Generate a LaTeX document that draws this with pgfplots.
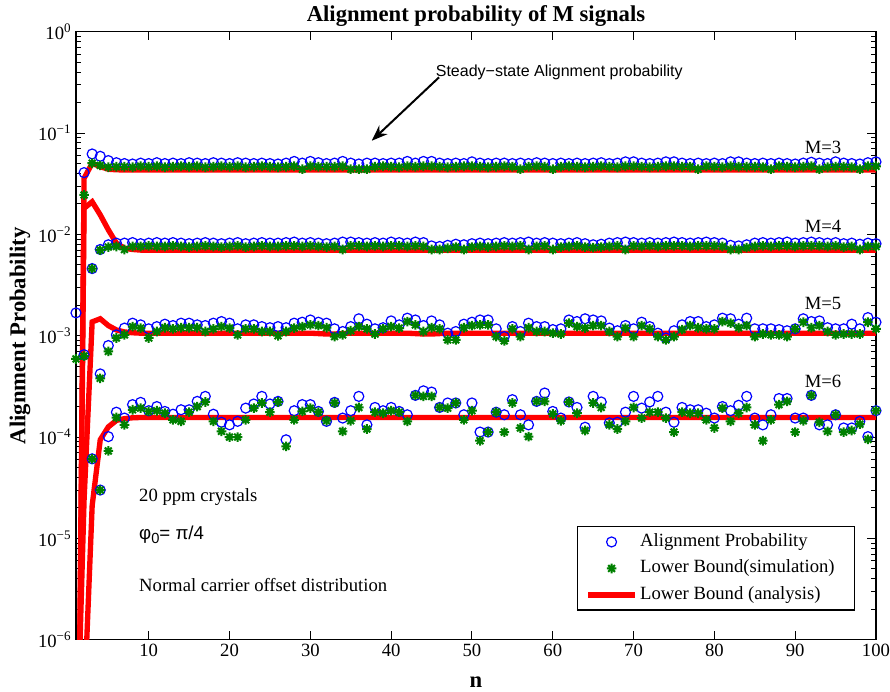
\documentclass[border=0pt]{standalone}
\usepackage{fontspec}
\setmainfont{Liberation Serif}
\newfontfamily\sansf{Liberation Sans}
\usepackage{pgfplots}
\usepackage{pgfplotstable}
\pgfplotsset{compat=1.18}
\usetikzlibrary{arrows.meta}
\definecolor{mgreen}{rgb}{0,0.5,0}
\pgfdeclareplotmark{mstar}{%
 \pgfpathmoveto{\pgfqpoint{0pt}{\pgfplotmarksize}}\pgfpathlineto{\pgfqpoint{0pt}{-\pgfplotmarksize}}%
 \pgfpathmoveto{\pgfqpoint{\pgfplotmarksize}{0pt}}\pgfpathlineto{\pgfqpoint{-\pgfplotmarksize}{0pt}}%
 \pgfpathmoveto{\pgfqpoint{0.707\pgfplotmarksize}{0.707\pgfplotmarksize}}\pgfpathlineto{\pgfqpoint{-0.707\pgfplotmarksize}{-0.707\pgfplotmarksize}}%
 \pgfpathmoveto{\pgfqpoint{0.707\pgfplotmarksize}{-0.707\pgfplotmarksize}}\pgfpathlineto{\pgfqpoint{-0.707\pgfplotmarksize}{0.707\pgfplotmarksize}}%
 \pgfusepathqstroke}
\pgfplotstableread{
n c3 s3 c4 s4 c5 s5 c6 s6 r3 r4 r5 r6
1 1.68e-3 5.9e-4 nan nan nan nan nan nan 1e-10 1e-10 4e-8 1e-10
2 0.0407 0.0245 6.5e-4 6.3e-4 nan nan nan nan 0.0358 0.0181 2.4e-5 2.2e-7
3 0.0622 0.0504 4.6e-3 4.6e-3 6.1e-5 6.1e-5 nan nan 0.0504 0.0210 1.37e-3 2.1e-5
4 0.0590 0.0480 7.1e-3 7.0e-3 4.2e-4 3.8e-4 3.0e-5 3.0e-5 0.0466 0.0156 1.47e-3 9.4e-5
5 0.0535 0.0460 7.9e-3 7.5e-3 8.0e-4 7.0e-4 1.01e-4 7.3e-5 0.0440 0.0111 1.26e-3 1.26e-4
6 0.0510 0.0465 8.2e-3 7.6e-3 1.02e-3 9.5e-4 1.76e-4 1.56e-4 0.0434 0.0082 1.14e-3 1.46e-4
7 0.0500 0.0465 8.2e-3 7.1e-3 1.19e-3 1.02e-3 1.54e-4 1.32e-4 0.0433 0.0073 1.09e-3 1.52e-4
8 0.0495 0.0460 8.3e-3 7.6e-3 1.33e-3 1.23e-3 2.09e-4 1.86e-4 0.0433 0.0071 1.07e-3 1.55e-4
9 0.0505 0.0470 8.1e-3 7.6e-3 1.28e-3 1.19e-3 2.20e-4 1.93e-4 0.0433 0.0070 1.06e-3 1.56e-4
10 0.0500 0.0465 0.0082 0.0077 1.17e-3 9.5e-4 1.82e-4 1.79e-4 0.0433 0.0070 1.06e-3 1.56e-4
11 0.0510 0.0470 0.0083 0.0076 1.23e-3 1.1e-3 2.0e-4 1.82e-4 0.0433 0.0070 1.06e-3 1.56e-4
12 0.0500 0.0460 0.0082 0.0076 1.3e-3 1.2e-3 1.79e-4 1.72e-4 0.0433 0.0070 1.06e-3 1.56e-4
13 0.0505 0.0465 0.0083 0.0077 1.26e-3 1.17e-3 1.68e-4 1.48e-4 0.0433 0.0070 1.06e-3 1.56e-4
14 0.0500 0.0470 0.0082 0.0076 1.33e-3 1.2e-3 1.86e-4 1.43e-4 0.0433 0.0070 1.06e-3 1.56e-4
15 0.0510 0.0465 0.0081 0.0075 1.33e-3 1.2e-3 1.86e-4 1.76e-4 0.0433 0.0070 1.06e-3 1.56e-4
16 0.0505 0.0470 0.0082 0.0076 1.28e-3 1.2e-3 2.25e-4 2.0e-4 0.0433 0.0070 1.06e-3 1.56e-4
17 0.0500 0.0460 0.0083 0.0077 1.26e-3 1.1e-3 2.52e-4 2.22e-4 0.0433 0.0070 1.06e-3 1.56e-4
18 0.0510 0.0465 0.0082 0.0076 1.33e-3 1.17e-3 1.68e-4 1.43e-4 0.0433 0.0070 1.06e-3 1.56e-4
19 0.0505 0.0470 0.0081 0.0075 1.38e-3 1.23e-3 1.4e-4 1.14e-4 0.0433 0.0070 1.06e-3 1.56e-4
20 0.0500 0.0465 0.0082 0.0076 1.33e-3 1.19e-3 1.32e-4 1.0e-4 0.0433 0.0070 1.06e-3 1.56e-4
21 0.0510 0.0470 0.0083 0.0077 1.17e-3 1.02e-3 1.43e-4 1.0e-4 0.0433 0.0070 1.06e-3 1.56e-4
22 0.0505 0.0460 0.0081 0.0075 1.28e-3 1.17e-3 1.93e-4 1.48e-4 0.0433 0.0070 1.06e-3 1.56e-4
23 0.0500 0.0465 0.0082 0.0076 1.28e-3 1.17e-3 2.12e-4 1.93e-4 0.0433 0.0070 1.06e-3 1.56e-4
24 0.0505 0.0470 0.0083 0.0077 1.23e-3 1.1e-3 2.52e-4 2.17e-4 0.0433 0.0070 1.06e-3 1.56e-4
25 0.0500 0.0465 0.0082 0.0076 1.2e-3 1.1e-3 2.12e-4 1.76e-4 0.0433 0.0070 1.06e-3 1.56e-4
26 0.0495 0.0460 0.0082 0.0076 1.23e-3 1.0e-3 2.25e-4 2.22e-4 0.0433 0.0070 1.06e-3 1.56e-4
27 0.0505 0.0465 0.0083 0.0077 1.2e-3 1.1e-3 9.4e-5 8.1e-5 0.0433 0.0070 1.06e-3 1.56e-4
28 0.0525 0.0470 0.0084 0.0077 1.33e-3 1.19e-3 1.82e-4 1.48e-4 0.0433 0.0070 1.06e-3 1.56e-4
29 0.0505 0.0440 0.0082 0.0076 1.36e-3 1.23e-3 2.09e-4 1.79e-4 0.0433 0.0070 1.06e-3 1.56e-4
30 0.0525 0.0470 0.0083 0.0077 1.43e-3 1.28e-3 2.09e-4 1.93e-4 0.0433 0.0070 1.06e-3 1.56e-4
31 0.0510 0.0465 0.0082 0.0076 1.36e-3 1.26e-3 1.79e-4 1.76e-4 0.0433 0.0070 1.05e-3 1.56e-4
32 0.0500 0.0465 0.0081 0.0075 1.33e-3 1.2e-3 1.43e-4 1.45e-4 0.0433 0.0070 1.04e-3 1.56e-4
33 0.0505 0.0465 0.0082 0.0076 1.17e-3 9.8e-4 2.2e-4 2.17e-4 0.0433 0.0070 1.04e-3 1.56e-4
34 0.0525 0.0470 0.0084 0.0071 1.1e-3 1.02e-3 1.54e-4 1.14e-4 0.0433 0.0070 1.05e-3 1.56e-4
35 0.0505 0.0440 0.0084 0.0077 1.23e-3 1.12e-3 1.82e-4 1.45e-4 0.0433 0.0070 1.06e-3 1.56e-4
36 0.0495 0.0440 0.0083 0.0077 1.47e-3 1.23e-3 2.52e-4 1.96e-4 0.0433 0.0070 1.06e-3 1.56e-4
37 0.0505 0.0440 0.0082 0.0076 1.3e-3 1.17e-3 1.32e-4 1.2e-4 0.0433 0.0070 1.06e-3 1.56e-4
38 0.0505 0.0465 0.0083 0.0077 1.17e-3 1.04e-3 1.96e-4 1.76e-4 0.0433 0.0070 1.06e-3 1.56e-4
39 0.0500 0.0470 0.0082 0.0076 1.2e-3 1.17e-3 1.82e-4 1.72e-4 0.0433 0.0070 1.06e-3 1.56e-4
40 0.0505 0.0465 0.0084 0.0077 1.4e-3 1.23e-3 1.96e-4 1.82e-4 0.0433 0.0070 1.06e-3 1.56e-4
41 0.0505 0.0460 0.0083 0.0077 1.28e-3 1.19e-3 1.79e-4 1.76e-4 0.0433 0.0070 1.06e-3 1.56e-4
42 0.0525 0.0470 0.0082 0.0076 1.49e-3 1.38e-3 1.66e-4 1.43e-4 0.0433 0.0070 1.06e-3 1.56e-4
43 0.0505 0.0465 0.0084 0.0077 1.43e-3 1.28e-3 2.58e-4 2.58e-4 0.0433 0.0070 1.05e-3 1.56e-4
44 0.0525 0.0470 0.0083 0.0076 1.26e-3 1.1e-3 2.86e-4 2.52e-4 0.0433 0.0070 1.04e-3 1.56e-4
45 0.0525 0.0470 0.0077 0.0071 1.4e-3 1.2e-3 2.78e-4 2.52e-4 0.0433 0.0070 1.04e-3 1.56e-4
46 0.0505 0.0465 0.0076 0.0071 1.28e-3 1.17e-3 1.96e-4 1.96e-4 0.0433 0.0070 1.05e-3 1.56e-4
47 0.0500 0.0460 0.0078 0.0073 1.06e-3 9.1e-4 2.17e-4 1.93e-4 0.0433 0.0070 1.06e-3 1.56e-4
48 0.0505 0.0465 0.0080 0.0075 1.1e-3 9.1e-4 2.17e-4 2.17e-4 0.0433 0.0070 1.06e-3 1.56e-4
49 0.0500 0.0470 0.0079 0.0071 1.3e-3 1.2e-3 1.66e-4 1.48e-4 0.0433 0.0070 1.06e-3 1.56e-4
50 0.0520 0.0470 0.0081 0.0075 1.36e-3 1.26e-3 2.17e-4 1.82e-4 0.0433 0.0070 1.06e-3 1.56e-4
51 0.0505 0.0465 0.0082 0.0076 1.43e-3 1.28e-3 1.12e-4 9.2e-5 0.0433 0.0070 1.06e-3 1.56e-4
52 0.0500 0.0460 0.0081 0.0075 1.43e-3 1.28e-3 1.12e-4 1.12e-4 0.0433 0.0070 1.06e-3 1.56e-4
53 0.0505 0.0465 0.0082 0.0076 1.17e-3 9.8e-4 1.76e-4 1.76e-4 0.0433 0.0070 1.06e-3 1.56e-4
54 0.0505 0.0470 0.0083 0.0077 9.8e-4 8.9e-4 1.66e-4 1.12e-4 0.0433 0.0070 1.06e-3 1.56e-4
55 0.0500 0.0465 0.0082 0.0076 1.23e-3 1.17e-3 2.34e-4 2.17e-4 0.0433 0.0070 1.06e-3 1.56e-4
56 0.0505 0.0440 0.0083 0.0077 1.1e-3 9.8e-4 1.66e-4 1.23e-4 0.0433 0.0070 1.06e-3 1.56e-4
57 0.0500 0.0465 0.0084 0.0071 1.33e-3 1.2e-3 1.32e-4 1.01e-4 0.0433 0.0070 1.06e-3 1.56e-4
58 0.0510 0.0470 0.0082 0.0076 1.23e-3 1.1e-3 2.25e-4 2.25e-4 0.0433 0.0070 1.06e-3 1.56e-4
59 0.0505 0.0465 0.0083 0.0077 1.23e-3 1.1e-3 2.72e-4 2.25e-4 0.0433 0.0070 1.06e-3 1.56e-4
60 0.0500 0.0440 0.0082 0.0071 1.15e-3 1.06e-3 1.79e-4 1.69e-4 0.0433 0.0070 1.06e-3 1.56e-4
61 0.0505 0.0465 0.0081 0.0075 1.17e-3 1.04e-3 1.54e-4 1.45e-4 0.0433 0.0070 1.06e-3 1.56e-4
62 0.0500 0.0470 0.0082 0.0076 1.43e-3 1.33e-3 2.22e-4 2.22e-4 0.0433 0.0070 1.06e-3 1.56e-4
63 0.0505 0.0465 0.0083 0.0077 1.38e-3 1.23e-3 1.96e-4 1.72e-4 0.0433 0.0070 1.06e-3 1.56e-4
64 0.0500 0.0460 0.0081 0.0075 1.47e-3 1.19e-3 1.25e-4 1.16e-4 0.0433 0.0070 1.06e-3 1.56e-4
65 0.0505 0.0465 0.0079 0.0074 1.43e-3 1.26e-3 2.52e-4 2.17e-4 0.0433 0.0070 1.06e-3 1.56e-4
66 0.0510 0.0470 0.0080 0.0075 1.4e-3 1.26e-3 2.22e-4 1.96e-4 0.0433 0.0070 1.06e-3 1.56e-4
67 0.0500 0.0465 0.0082 0.0076 1.19e-3 1.1e-3 1.38e-4 1.32e-4 0.0433 0.0070 1.06e-3 1.56e-4
68 0.0505 0.0460 0.0083 0.0077 1.12e-3 9.8e-4 1.4e-4 1.2e-4 0.0433 0.0070 1.06e-3 1.56e-4
69 0.0520 0.0470 0.0084 0.0071 1.26e-3 1.19e-3 1.76e-4 1.43e-4 0.0433 0.0070 1.06e-3 1.56e-4
70 0.0520 0.0470 0.0083 0.0077 1.17e-3 9.8e-4 2.52e-4 1.96e-4 0.0433 0.0070 1.06e-3 1.56e-4
71 0.0505 0.0465 0.0082 0.0076 1.36e-3 1.26e-3 1.93e-4 1.54e-4 0.0433 0.0070 1.06e-3 1.56e-4
72 0.0500 0.0460 0.0083 0.0077 1.23e-3 1.17e-3 2.22e-4 1.76e-4 0.0433 0.0070 1.06e-3 1.56e-4
73 0.0505 0.0465 0.0082 0.0076 1.06e-3 9.8e-4 2.52e-4 1.76e-4 0.0433 0.0070 1.06e-3 1.56e-4
74 0.0520 0.0470 0.0083 0.0077 9.5e-4 9.1e-4 1.76e-4 1.54e-4 0.0433 0.0070 1.06e-3 1.56e-4
75 0.0520 0.0470 0.0084 0.0077 1.12e-3 9.8e-4 1.4e-4 1.12e-4 0.0433 0.0070 1.06e-3 1.56e-4
76 0.0505 0.0465 0.0083 0.0077 1.28e-3 1.15e-3 1.96e-4 1.76e-4 0.0433 0.0070 1.06e-3 1.56e-4
77 0.0500 0.0465 0.0082 0.0076 1.38e-3 1.26e-3 1.86e-4 1.72e-4 0.0433 0.0070 1.06e-3 1.56e-4
78 0.0505 0.0440 0.0083 0.0077 1.38e-3 1.2e-3 1.86e-4 1.72e-4 0.0433 0.0070 1.06e-3 1.56e-4
79 0.0500 0.0470 0.0084 0.0077 1.23e-3 1.17e-3 1.72e-4 1.48e-4 0.0433 0.0070 1.06e-3 1.56e-4
80 0.0505 0.0465 0.0083 0.0077 1.28e-3 1.17e-3 1.54e-4 1.23e-4 0.0433 0.0070 1.06e-3 1.56e-4
81 0.0500 0.0460 0.0082 0.0076 1.49e-3 1.38e-3 2.0e-4 1.93e-4 0.0433 0.0070 1.06e-3 1.56e-4
82 0.0520 0.0470 0.0078 0.0071 1.47e-3 1.33e-3 1.82e-4 1.43e-4 0.0433 0.0070 1.06e-3 1.56e-4
83 0.0520 0.0465 0.0077 0.0071 1.3e-3 1.2e-3 2.06e-4 1.72e-4 0.0433 0.0070 1.06e-3 1.56e-4
84 0.0505 0.0465 0.0079 0.0074 1.49e-3 1.26e-3 2.52e-4 1.96e-4 0.0433 0.0070 1.06e-3 1.56e-4
85 0.0500 0.0465 0.0082 0.0076 1.17e-3 9.8e-4 1.54e-4 1.32e-4 0.0433 0.0070 1.06e-3 1.56e-4
86 0.0505 0.0460 0.0083 0.0077 1.17e-3 1.04e-3 1.32e-4 9.2e-5 0.0433 0.0070 1.06e-3 1.56e-4
87 0.0500 0.0440 0.0082 0.0076 1.17e-3 1.02e-3 1.66e-4 1.48e-4 0.0433 0.0070 1.06e-3 1.56e-4
88 0.0505 0.0470 0.0083 0.0077 1.15e-3 1.02e-3 2.4e-4 2.09e-4 0.0433 0.0070 1.06e-3 1.56e-4
89 0.0500 0.0465 0.0084 0.0077 1.12e-3 9.8e-4 2.4e-4 2.25e-4 0.0433 0.0070 1.06e-3 1.56e-4
90 0.0495 0.0460 0.0082 0.0076 1.17e-3 1.17e-3 1.54e-4 1.12e-4 0.0433 0.0070 1.06e-3 1.56e-4
91 0.0505 0.0465 0.0083 0.0077 1.47e-3 1.36e-3 1.54e-4 1.45e-4 0.0433 0.0070 1.06e-3 1.56e-4
92 0.0515 0.0470 0.0084 0.0077 1.38e-3 1.2e-3 2.58e-4 2.58e-4 0.0433 0.0070 1.06e-3 1.56e-4
93 0.0505 0.0440 0.0083 0.0077 1.4e-3 1.26e-3 1.32e-4 1.4e-4 0.0433 0.0070 1.06e-3 1.56e-4
94 0.0500 0.0460 0.0082 0.0076 1.2e-3 1.1e-3 1.32e-4 1.14e-4 0.0433 0.0070 1.06e-3 1.56e-4
95 0.0520 0.0465 0.0083 0.0077 1.17e-3 1.02e-3 1.66e-4 1.66e-4 0.0433 0.0070 1.06e-3 1.56e-4
96 0.0505 0.0465 0.0081 0.0075 1.17e-3 1.04e-3 1.23e-4 1.12e-4 0.0433 0.0070 1.06e-3 1.56e-4
97 0.0500 0.0460 0.0082 0.0076 1.3e-3 1.04e-3 1.23e-4 1.16e-4 0.0433 0.0070 1.06e-3 1.56e-4
98 0.0495 0.0440 0.0080 0.0071 1.17e-3 1.04e-3 1.43e-4 1.34e-4 0.0433 0.0070 1.06e-3 1.56e-4
99 0.0510 0.0470 0.0082 0.0076 1.51e-3 1.36e-3 1.01e-4 9.5e-5 0.0433 0.0070 1.06e-3 1.56e-4
100 0.0520 0.0470 0.0081 0.0076 1.36e-3 1.17e-3 1.82e-4 1.82e-4 0.0433 0.0070 1.06e-3 1.56e-4
}\datatable
\begin{document}
\begin{tikzpicture}
\useasboundingbox (-57pt,-39pt) rectangle (610.5pt,479.8pt);
\begin{axis}[
  at={(0,0)}, anchor=south west,
  scale only axis, width=600pt, height=456pt,
  ymode=log, xmin=1, xmax=100, ymin=1e-6, ymax=1,
  xtick={10,20,30,40,50,60,70,80,90,100},
  xticklabels={10,20,30,40,50,60,70,80,90,100},
  ytick={1e-6,1e-5,1e-4,1e-3,1e-2,1e-1,1},
  yticklabels={10\textsuperscript{−6},10\textsuperscript{−5},10\textsuperscript{−4},10\textsuperscript{−3},10\textsuperscript{−2},10\textsuperscript{−1},10\textsuperscript{0}},
  minor ytick={2e-6,3e-6,4e-6,5e-6,6e-6,7e-6,8e-6,9e-6,
               2e-5,3e-5,4e-5,5e-5,6e-5,7e-5,8e-5,9e-5,
               2e-4,3e-4,4e-4,5e-4,6e-4,7e-4,8e-4,9e-4,
               2e-3,3e-3,4e-3,5e-3,6e-3,7e-3,8e-3,9e-3,
               2e-2,3e-2,4e-2,5e-2,6e-2,7e-2,8e-2,9e-2,
               2e-1,3e-1,4e-1,5e-1,6e-1,7e-1,8e-1,9e-1},
  tick label style={font=\fontsize{14}{16}\selectfont},
  tick align=inside, major tick length=6.5pt, minor tick length=4pt,
  axis line style={line width=0.9pt}, tick style={line width=0.8pt, black},
  every axis title shift=0pt,
  title={Alignment probability of M signals},
  title style={font=\bfseries\fontsize{17}{20}\selectfont, at={(0.5,1)}, anchor=base, yshift=8pt},
  xlabel={n},
  xlabel style={font=\bfseries\fontsize{17}{20}\selectfont, at={(axis description cs:0.5,0)}, anchor=base, yshift=-36pt},
  ylabel={Alignment Probability},
  ylabel style={font=\bfseries\fontsize{17}{20}\selectfont, at={(axis description cs:-0.0633,0.5)}, anchor=base},
  legend image code/.code={\draw[mark repeat=2,mark phase=2,#1] plot coordinates {(0pt,0pt) (17.5pt,0pt) (35pt,0pt)};},
  legend style={at={(0.974,0.048)}, anchor=south east, font=\fontsize{14}{16}\selectfont, draw=black, line width=0.8pt,
    cells={anchor=west}, row sep=4.4pt, inner xsep=6pt, inner ysep=3.5pt,
    nodes={inner xsep=2pt, inner ysep=1pt, text height=10pt, text depth=3.5pt}},
  clip=true,
]
% legend-bearing series (M=3)
\addplot[only marks, mark=o, blue, mark size=3.75pt, line width=0.9pt] table[x=n,y=c3] {\datatable};
\addlegendentry{Alignment Probability}
\addplot[only marks, mark=mstar, mgreen, mark size=3.6pt, line width=1.5pt] table[x=n,y=s3] {\datatable};
\addlegendentry{Lower Bound(simulation)\hspace*{7pt}}
\addplot[red, line width=4pt, no marks] table[x=n,y=r3] {\datatable};
\addlegendentry{Lower Bound (analysis)}
% other M
\addplot[forget plot, only marks, mark=o, blue, mark size=3.75pt, line width=0.9pt] table[x=n,y=c4] {\datatable};
\addplot[forget plot, only marks, mark=mstar, mgreen, mark size=3.6pt, line width=1.5pt] table[x=n,y=s4] {\datatable};
\addplot[forget plot, red, line width=4pt, no marks] table[x=n,y=r4] {\datatable};
\addplot[forget plot, only marks, mark=o, blue, mark size=3.75pt, line width=0.9pt] table[x=n,y=c5] {\datatable};
\addplot[forget plot, only marks, mark=mstar, mgreen, mark size=3.6pt, line width=1.5pt] table[x=n,y=s5] {\datatable};
\addplot[forget plot, red, line width=4pt, no marks] table[x=n,y=r5] {\datatable};
\addplot[forget plot, only marks, mark=o, blue, mark size=3.75pt, line width=0.9pt] table[x=n,y=c6] {\datatable};
\addplot[forget plot, only marks, mark=mstar, mgreen, mark size=3.6pt, line width=1.5pt] table[x=n,y=s6] {\datatable};
\addplot[forget plot, red, line width=4pt, no marks] table[x=n,y=r6] {\datatable};
% annotations
\node[anchor=base, font=\fontsize{14}{16}\selectfont, inner sep=0pt] at (axis cs:93.45,0.0632) {M=3};
\node[anchor=base, font=\fontsize{14}{16}\selectfont, inner sep=0pt] at (axis cs:93.45,0.01042) {M=4};
\node[anchor=base, font=\fontsize{14}{16}\selectfont, inner sep=0pt] at (axis cs:93.45,1.80e-3) {M=5};
\node[anchor=base, font=\fontsize{14}{16}\selectfont, inner sep=0pt] at (axis cs:93.45,3.11e-4) {M=6};
\node[anchor=base west, font=\sansf\fontsize{12}{14}\selectfont, inner sep=0pt] at (axis cs:45.5,0.3606) {Steady−state Alignment probability};
\draw[-{Stealth[length=12pt,width=9pt]}, line width=1.5pt] (axis cs:45.93,0.355) -- (axis cs:37.6,0.084);
\node[anchor=base west, font=\fontsize{14}{16}\selectfont, inner sep=0pt] at (axis cs:8.79,2.30e-5) {20 ppm crystals};
\node[anchor=base west, font=\sansf\fontsize{14}{16}\selectfont, inner sep=0pt] at (axis cs:8.79,9.86e-6) {φ\raisebox{-0.45ex}{\fontsize{11}{12}\selectfont 0}= π/4};
\node[anchor=base west, font=\fontsize{14}{16}\selectfont, inner sep=0pt] at (axis cs:8.79,3.0e-6) {Normal carrier offset distribution};
\end{axis}
\end{tikzpicture}
\end{document}
